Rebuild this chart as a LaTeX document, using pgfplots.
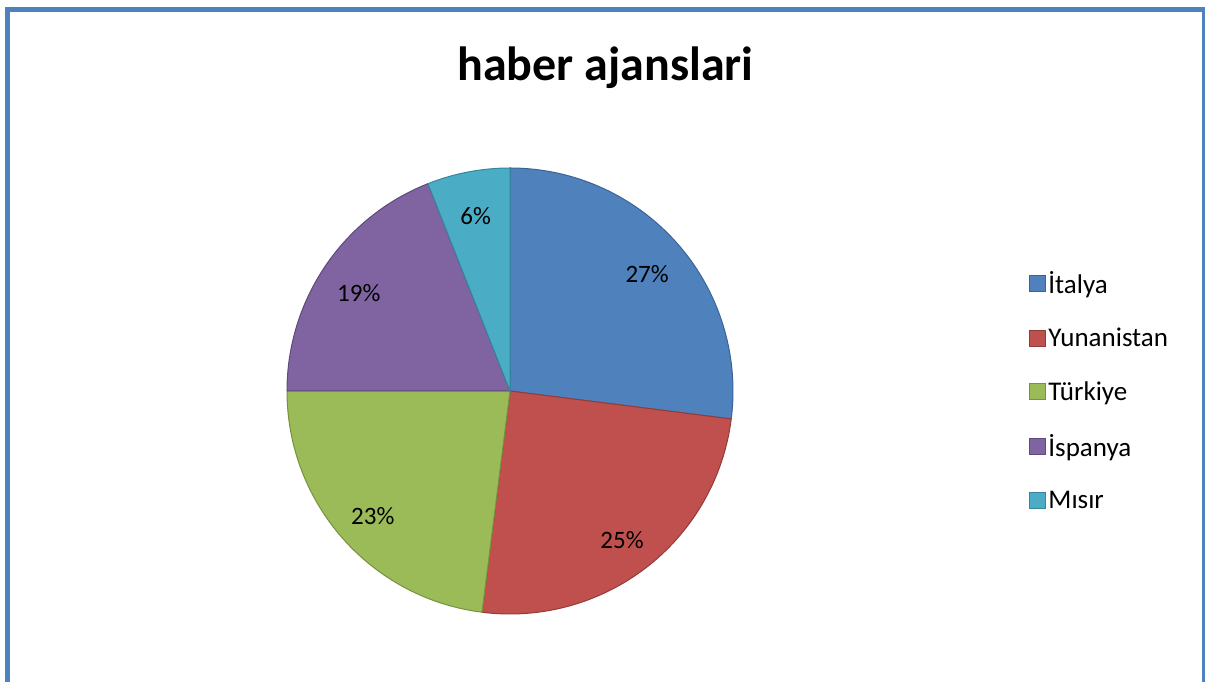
\documentclass[border=0pt]{standalone}
\usepackage{pgfplots}
\usepackage{pgfplotstable}
\pgfplotsset{compat=1.18}
\usepackage{fontspec}
\setmainfont{Carlito}

\definecolor{pie0}{HTML}{4F81BD}\definecolor{pie0d}{HTML}{3A6496}
\definecolor{pie1}{HTML}{C0504D}\definecolor{pie1d}{HTML}{943B39}
\definecolor{pie2}{HTML}{9BBB59}\definecolor{pie2d}{HTML}{76913F}
\definecolor{pie3}{HTML}{8064A2}\definecolor{pie3d}{HTML}{5F4A7A}
\definecolor{pie4}{HTML}{4BACC6}\definecolor{pie4d}{HTML}{34869C}
\definecolor{frame}{HTML}{4F81BD}

\pgfplotstableread{
name value
İtalya 27
Yunanistan 25
Türkiye 23
İspanya 19
Mısır 6
}\piedata

\begin{document}
\begin{tikzpicture}
\useasboundingbox (0pt,0pt) rectangle (1205pt,682pt);
\begin{scope}
\clip (0pt,0pt) rectangle (1205pt,682pt);
\draw[frame,line width=5pt] (7.5pt,-20pt) rectangle (1204pt,672.5pt);
\end{scope}

% cumulative angles, clockwise from the top
\xdef\cum{0}
\foreach \i in {0,...,4}{%
  \pgfplotstablegetelem{\i}{value}\of\piedata
  \edef\val{\pgfplotsretval}%
  \pgfmathsetmacro\tmpa{90-3.6*\cum}%
  \pgfmathsetmacro\tmpb{90-3.6*(\cum+\val)}%
  \expandafter\xdef\csname sa\i\endcsname{\tmpa}%
  \expandafter\xdef\csname sb\i\endcsname{\tmpb}%
  \expandafter\xdef\csname pv\i\endcsname{\val}%
  \pgfmathsetmacro\tmpc{\cum+\val}%
  \xdef\cum{\tmpc}%
}

\node[font=\bfseries\fontsize{48}{56}\selectfont] at (605.5pt,614pt) {haber ajanslari};

\begin{axis}[
  at={(510pt,291pt)}, anchor=center,
  scale only axis, width=446pt, height=446pt,
  xmin=-1, xmax=1, ymin=-1, ymax=1,
  hide axis, clip=false,
  legend style={draw=none, fill=none, at={(1.657,0.5)}, anchor=west,
    font=\fontsize{27}{32}\selectfont, row sep=29pt,
    nodes={inner sep=2pt}},
  legend cell align=left,
  legend image code/.code={\draw[#1,line width=1.2pt] (0pt,-8pt) rectangle (16pt,8pt);},
]
\pgfplotsinvokeforeach{0,...,4}{%
  \filldraw[fill=pie#1, draw=pie#1d, line width=1pt]
    (0,0) -- ({cos(\csname sa#1\endcsname)},{sin(\csname sa#1\endcsname)})
    arc[start angle=\csname sa#1\endcsname, end angle=\csname sb#1\endcsname, radius=223pt] -- cycle;
}
\pgfplotsinvokeforeach{0,...,4}{%
  \node[font=\fontsize{25}{30}\selectfont]
    at ({0.82*cos((\csname sa#1\endcsname+\csname sb#1\endcsname)/2)},
        {0.82*sin((\csname sa#1\endcsname+\csname sb#1\endcsname)/2)-0.02})
    {\csname pv#1\endcsname\%};
}
\addlegendimage{fill=pie0, draw=pie0d}\addlegendentry{İtalya}
\addlegendimage{fill=pie1, draw=pie1d}\addlegendentry{Yunanistan}
\addlegendimage{fill=pie2, draw=pie2d}\addlegendentry{Türkiye}
\addlegendimage{fill=pie3, draw=pie3d}\addlegendentry{İspanya}
\addlegendimage{fill=pie4, draw=pie4d}\addlegendentry{Mısır}
\end{axis}
\end{tikzpicture}
\end{document}
